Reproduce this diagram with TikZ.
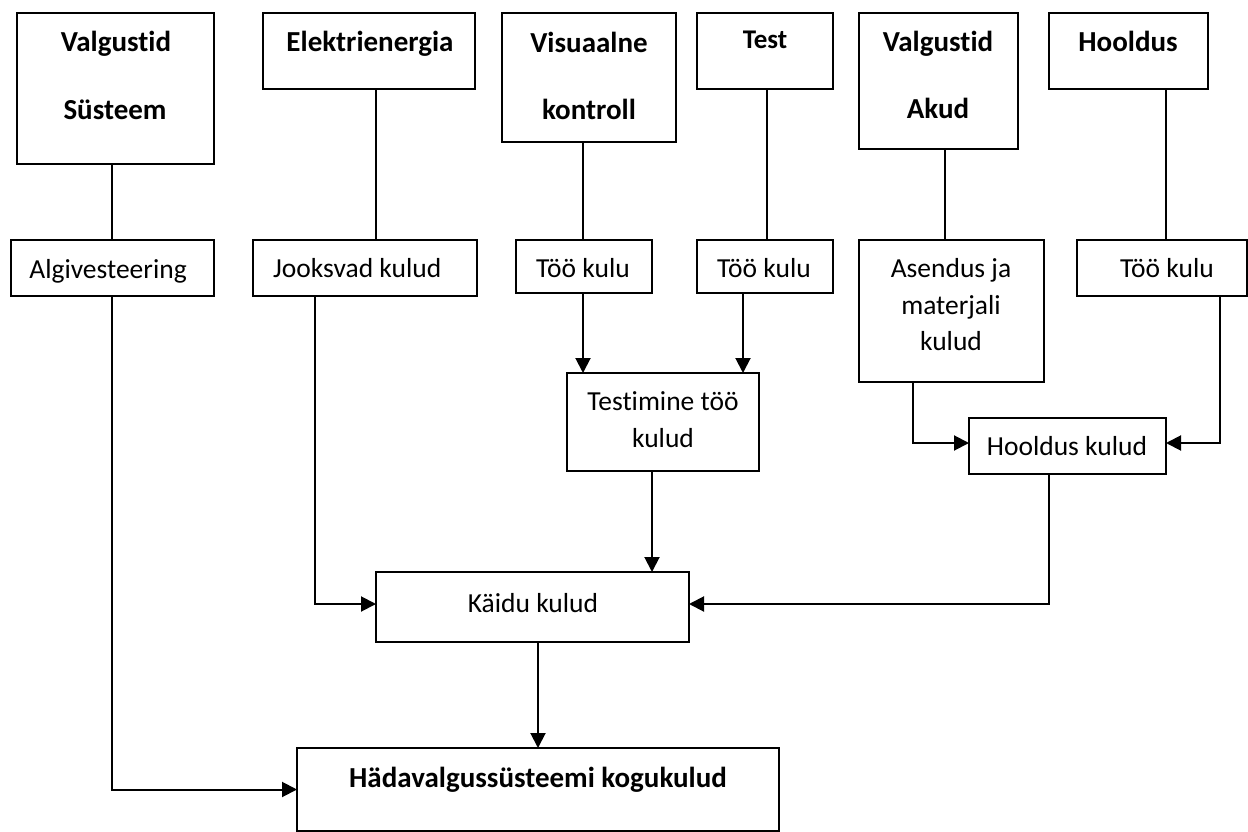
\documentclass[tikz,border=0pt]{standalone}
\usepackage{fontspec}
\setmainfont{Carlito}[Ligatures={TeX,NoCommon}]
\usetikzlibrary{arrows.meta}
\tikzset{
  box/.style={draw=black, line width=2pt, rectangle, inner sep=0pt, outer sep=0pt},
  conn/.style={draw=black, line width=2pt},
  arr/.style={conn, -{Triangle[length=15pt,width=15pt]}},
  nt/.style={font=\fontsize{27.5}{33}\selectfont, inner sep=0pt, anchor=base},
  bt/.style={font=\fontsize{29}{35}\selectfont\bfseries, inner sep=0pt, anchor=base},
}
\newcommand\mybox[5]{\node[box, minimum width={#4pt-#2pt}, minimum height={#5pt-#3pt}] (#1) at ({(#2+#4)/2},{(#3+#5)/2}) {};}
\begin{document}
\begin{tikzpicture}[x=1pt,y=-1pt]
\useasboundingbox (0,0) rectangle (1248,832);
% top boxes
\mybox{vs}{17}{13}{214}{164}
\mybox{el}{263}{13}{475}{89}
\mybox{vk}{502}{13}{676}{142}
\mybox{te}{697}{13}{833}{89}
\mybox{va}{859}{13}{1018}{149}
\mybox{ho}{1049}{13}{1208}{89}
% second row
\mybox{algi}{11}{240}{214}{296}
\mybox{jook}{253}{240}{477}{296}
\mybox{tka}{516}{240}{652}{293}
\mybox{tkb}{697}{240}{833}{293}
\mybox{as}{859}{240}{1044}{382}
\mybox{tkc}{1077}{240}{1247}{296}
% lower
\mybox{tt}{567}{373}{759}{471}
\mybox{hk}{969}{418}{1166}{474}
\mybox{kd}{376}{572}{689}{642}
\mybox{had}{297}{748}{779}{831}

% texts
\node[bt] (t1) at (116,52) {Valgustid};
\node[bt] (t2) at (115,120) {Süsteem};
\node[bt] (t3) at (370,52) {Elektrienergia};
\node[bt] (t4) at (589,53) {Visuaalne};
\node[bt] (t5) at (589,120) {kontroll};
\node[bt, font=\fontsize{27}{32}\selectfont\bfseries] (t6) at (765,49) {Test};
\node[bt] (t7) at (938,52) {Valgustid};
\node[bt] (t8) at (938,119) {Akud};
\node[bt] (t9) at (1128,52) {Hooldus};
\node[nt] (t10) at (108,278) {Algivesteering};
\node[nt, anchor=base west] (t11) at (273,277) {Jooksvad kulud};
\node[nt] (t12) at (583,277) {Töö kulu};
\node[nt] (t13) at (764,277) {Töö kulu};
\node[nt] (t14) at (951,277) {Asendus ja};
\node[nt] (t15) at (951,314) {materjali};
\node[nt] (t16) at (951,350) {kulud};
\node[nt] (t17) at (1167,277) {Töö kulu};
\node[nt] (t18) at (663,410) {Testimine töö};
\node[nt] (t19) at (663,447) {kulud};
\node[nt] (t20) at (1067,455) {Hooldus kulud};
\node[nt] (t21) at (533,612) {Käidu kulud};
\node[bt] (t22) at (538,787) {Hädavalgussüsteemi kogukulud};

% helper x positions
\coordinate (xa) at (112,0);
\coordinate (xb) at (376,0);
\coordinate (xc) at (583,0);
\coordinate (xd) at (767,0);
\coordinate (xe) at (945,0);
\coordinate (xf) at (1166,0);
\coordinate (xg) at (315,0);
\coordinate (xh) at (743,0);
\coordinate (xi) at (652,0);
\coordinate (xj) at (538,0);
\coordinate (xk) at (913,0);
\coordinate (xl) at (1220,0);
\coordinate (xm) at (1049,0);
\coordinate (ya) at (0,604);
\coordinate (yb) at (0,443);

% plain connectors
\draw[conn] (vs.south -| xa) -- (algi.north -| xa);
\draw[conn] (el.south -| xb) -- (jook.north -| xb);
\draw[conn] (vk.south -| xc) -- (tka.north -| xc);
\draw[conn] (te.south -| xd) -- (tkb.north -| xd);
\draw[conn] (va.south -| xe) -- (as.north -| xe);
\draw[conn] (ho.south -| xf) -- (tkc.north -| xf);

% arrows
\draw[arr] (algi.south -| xa) |- (had.west);
\draw[arr] (jook.south -| xg) |- (kd.west |- ya);
\draw[arr] (tka.south -| xc) -- (tt.north -| xc);
\draw[arr] (tkb.south -| xh) -- (tt.north -| xh);
\draw[arr] (tt.south -| xi) -- (kd.north -| xi);
\draw[arr] (kd.south -| xj) -- (had.north -| xj);
\draw[arr] (as.south -| xk) |- (hk.west |- yb);
\draw[arr] (tkc.south -| xl) |- (hk.east |- yb);
\draw[arr] (hk.south -| xm) |- (kd.east |- ya);
\end{tikzpicture}
\end{document}
